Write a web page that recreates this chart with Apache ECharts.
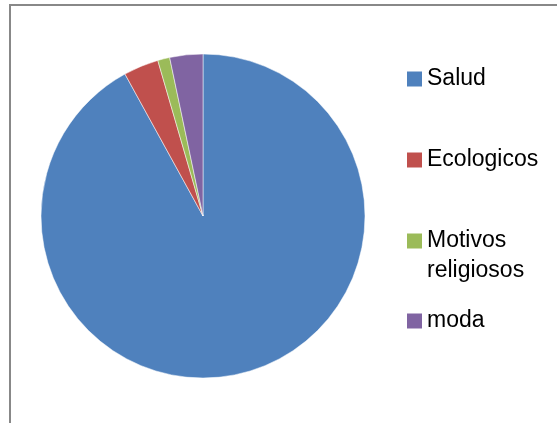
<!DOCTYPE html>
<html><head><meta charset="utf-8">
<script src="https://cdn.jsdelivr.net/npm/echarts@6/dist/echarts.min.js"></script>
<style>html,body{margin:0;padding:0;background:#fff}#c{width:557px;height:423px}</style>
</head><body><div id="c"></div>
<script>
const categories = ['Salud', 'Ecologicos', 'Motivos religiosos', 'moda'];
const legendLabels = ['Salud', 'Ecologicos', ' \nMotivos\nreligiosos', 'moda'];
const values = [92, 3.5, 1.2, 3.3];
const colors = ['#4F81BD', '#C0504D', '#9BBB59', '#8064A2'];

const chart = echarts.init(document.getElementById('c'));
const iconCenters = [79, 160, 241, 321];
const legends = categories.map((name, i) => {
  const lines = legendLabels[i].split('\n').length;
  const lh = 30;
  const boxH = lines * lh;
  return {
    data: [name],
    orient: 'vertical',
    left: 407,
    top: iconCenters[i] - boxH / 2,
    padding: 0,
    itemWidth: 15,
    itemHeight: 15,
    icon: 'rect',
    itemStyle: { borderWidth: 0 },
    selectedMode: false,
    formatter: () => legendLabels[i],
    textStyle: {
      fontFamily: 'Liberation Sans',
      fontSize: 23,
      color: '#000',
      lineHeight: lh
    }
  };
});

chart.setOption({
  animation: false,
  color: colors,
  graphic: [{
    type: 'rect',
    shape: { x: 10, y: 5, width: 600, height: 500 },
    style: { fill: 'none', stroke: '#888', lineWidth: 2 }
  }],
  legend: legends,
  series: [{
    type: 'pie',
    center: [203, 216],
    radius: 162,
    startAngle: 90,
    clockwise: true,
    label: { show: false },
    labelLine: { show: false },
    itemStyle: { borderColor: '#ffffff', borderWidth: 0.5 },
    data: categories.map((n, i) => ({ name: n, value: values[i] }))
  }]
});
</script></body></html>
